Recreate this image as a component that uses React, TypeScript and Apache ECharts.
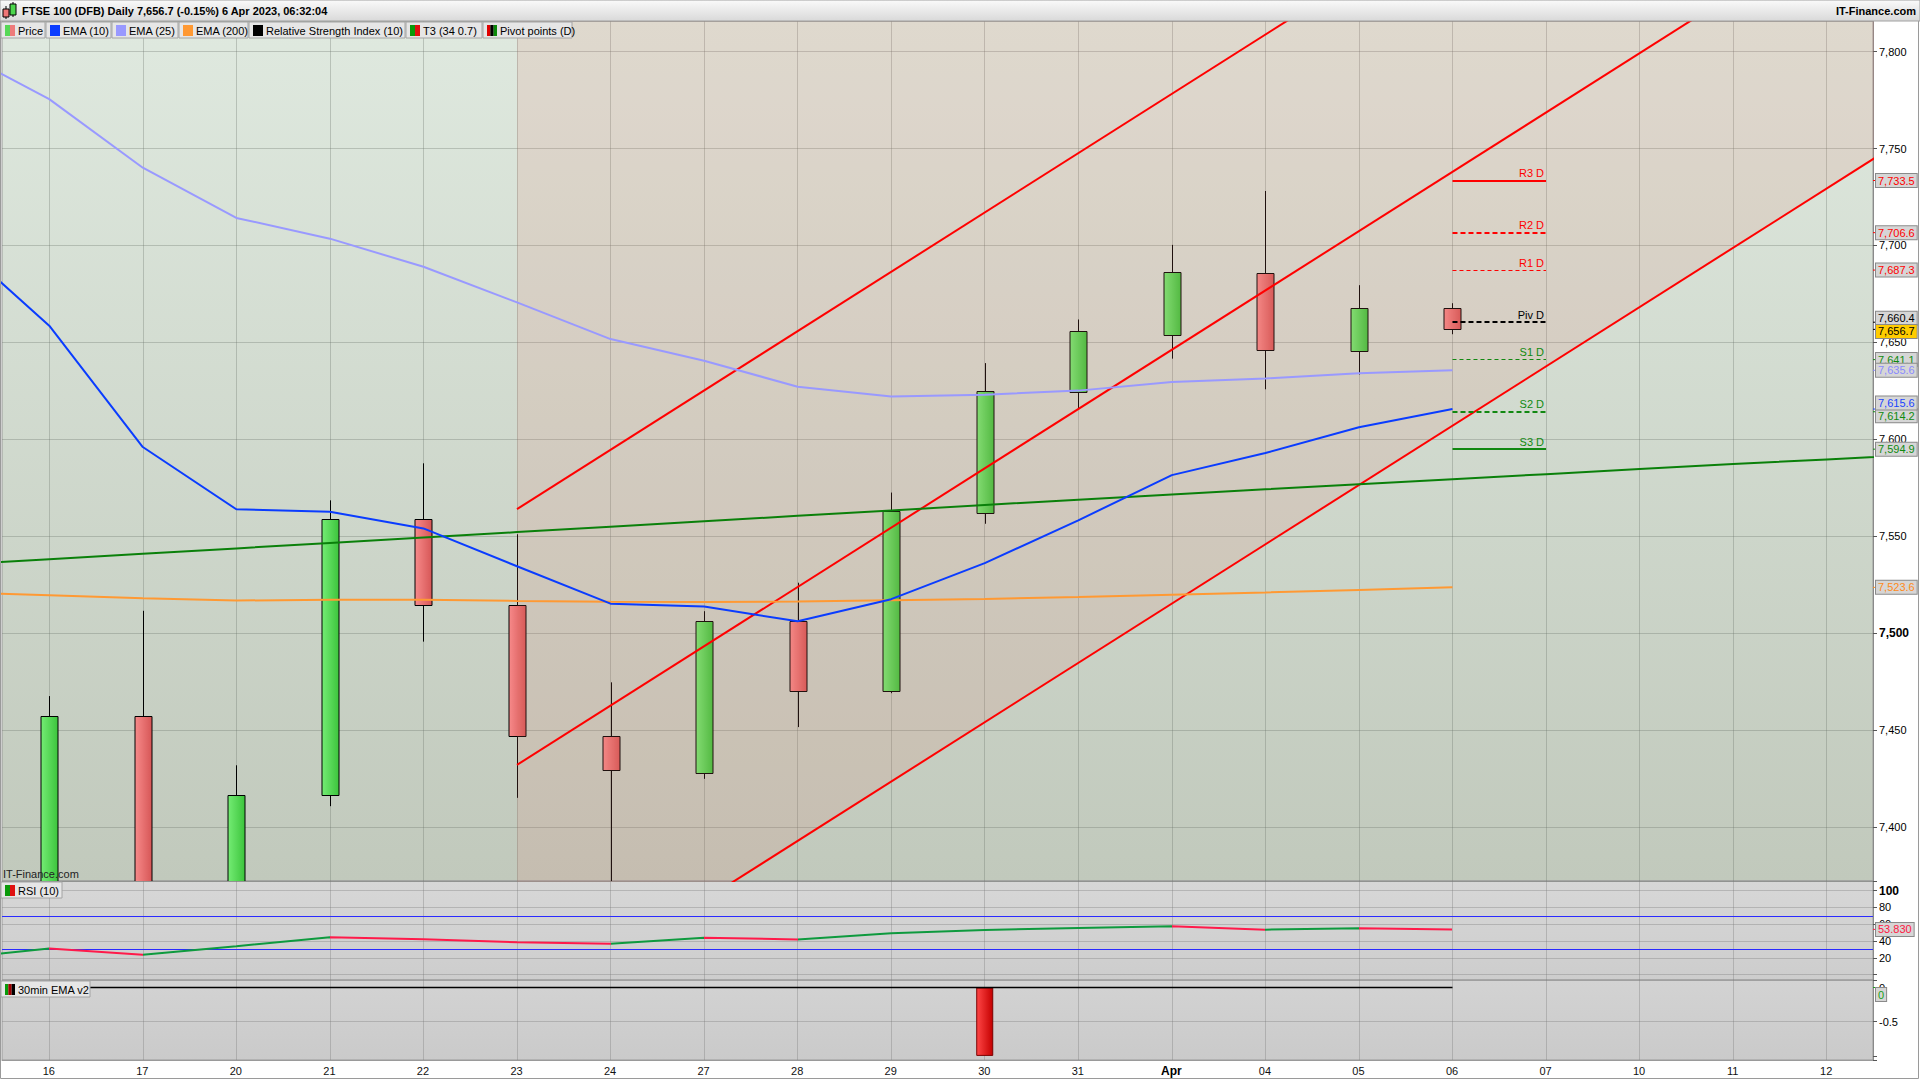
import { useEffect, useRef } from 'react';
import * as echarts from 'echarts';

// ---------- data ----------
const CATEGORIES = ['16', '17', '20', '21', '22', '23', '24', '27', '28', '29', '30', '31', 'Apr', '04', '05', '06', '07', '10', '11', '12'];

// daily candles for the first 16 categories
const OPEN = [7340, 7457, 7340, 7416.6, 7559, 7514.4, 7447, 7428, 7506, 7470, 7562.2, 7624.5, 7653.6, 7685.8, 7645.4, 7667.5];
const CLOSE = [7457, 7335, 7416.6, 7559, 7514.4, 7446.8, 7429.4, 7506, 7470, 7563, 7624.7, 7656.1, 7686.4, 7646, 7667.5, 7656.7];
const LOW = [7320, 7320, 7325, 7410.7, 7495.6, 7415, 7335, 7424.8, 7451.5, 7469, 7556.4, 7615.6, 7641.6, 7625.8, 7633.4, 7654.2];
const HIGH = [7467.5, 7511.5, 7431.8, 7568.5, 7587.6, 7551, 7474.6, 7511.3, 7526, 7572.5, 7639.3, 7661.8, 7700.3, 7728.1, 7679.5, 7670.2];

// indicator arrays start one session before the first visible category (index -1)
const LINE_START = -1;
const EMA10 = [7702, 7658.6, 7596, 7563.9, 7562.6, 7554, 7534.5, 7515.2, 7513.7, 7506.1, 7517.5, 7536.1, 7558.2, 7581.5, 7592.9, 7606.2, 7615.6];
const EMA25 = [7801, 7775.5, 7740.1, 7714.2, 7703.5, 7689, 7670.6, 7651.7, 7640.5, 7627.1, 7622.1, 7623, 7625.1, 7629.6, 7631.4, 7634, 7635.6];
const EMA200 = [7521, 7519.5, 7518, 7516.8, 7517.2, 7517.2, 7516.6, 7516.2, 7516.1, 7516.3, 7517, 7517.6, 7518.6, 7519.8, 7521, 7522.3, 7523.6];
const T3 = [7535.3, 7538.1, 7540.9, 7543.7, 7546.5, 7549.3, 7552.1, 7554.9, 7557.7, 7560.5, 7563.3, 7566.1, 7568.8, 7571.5, 7574.2, 7576.8, 7579.4, 7582, 7584.6, 7587.2, 7589.6, 7592];
const RSI = [19.4, 31.2, 23.7, 33.9, 44.5, 42.2, 38.6, 36.7, 43.9, 41.8, 49.2, 53.1, 55.5, 57.5, 53.5, 55.1, 53.83];
const EMA_V2_LINE = [0, 0, 0, 0, 0, 0, 0, 0, 0, 0, 0, 0, 0, 0, 0, 0, 0];
const EMA_V2_BARS = [0, 0, 0, 0, 0, 0, 0, 0, 0, 0, -1, 0, 0, 0, 0, 0];

// regression channel: [category index, price]
const CHANNEL_UPPER = [[5, 7564], [20, 8023]];
const CHANNEL_MID = [[5, 7432], [20, 7891]];
const CHANNEL_LOW = [[5, 7301], [20, 7760]];

const PIVOT_NAMES = ['R3 D', 'R2 D', 'R1 D', 'Piv D', 'S1 D', 'S2 D', 'S3 D'];
const PIVOT_VALUES = [7733.5, 7706.6, 7687.3, 7660.4, 7641.1, 7614.2, 7594.9];
const PIVOT_DAY = 15;
const RSI_LEVELS = [70, 30];

const TITLE = 'FTSE 100 (DFB) Daily 7,656.7 (-0.15%) 6 Apr 2023, 06:32:04';

// ---------- styling ----------
const FONT = '"Liberation Sans", Arial, Helvetica, sans-serif';
const GREEN = '#0e9a3e';
const RED = '#ff1a4a';
const X_MIN = -0.505;
const X_MAX = 19.495;

const vgrad = (a: string, b: string) => ({ type: 'linear', x: 0, y: 0, x2: 0, y2: 1, colorStops: [{ offset: 0, color: a }, { offset: 1, color: b }] });
const hgrad = (a: string, b: string) => ({ type: 'linear', x: 0, y: 0, x2: 1, y2: 0, colorStops: [{ offset: 0, color: a }, { offset: 1, color: b }] });
const withX = (arr: number[], start: number) => arr.map((v, i) => [i + start, v]);
const fmt = (v: number, d: number) => v.toLocaleString('en-US', { minimumFractionDigits: d, maximumFractionDigits: d });

const gridLine = { color: 'rgba(105,115,105,0.33)', width: 1, type: 'solid' };
const vLines = CATEGORIES.map((_, i) => ({ xAxis: i }));

function tag(value: number, text: string, color: string, dy = 0, bg = '#d6d6d6') {
  return {
    coord: [X_MAX, value],
    symbol: 'rect',
    symbolSize: [5, 1],
    symbolOffset: [2.5, 0],
    itemStyle: { color },
    label: {
      show: true, position: 'right', distance: -2, offset: [0, dy], formatter: text,
      color, backgroundColor: bg, borderColor: '#8a8a8a', borderWidth: 1, padding: [1, 2, 0, 2],
      fontSize: 11, fontFamily: FONT, lineHeight: 12,
    },
  };
}

const PIVOT_STYLE = [
  { color: '#ff0000', width: 2, type: 'solid' },
  { color: '#ff0000', width: 2, type: [5, 3] },
  { color: '#ff0000', width: 1, type: [4, 3] },
  { color: '#000000', width: 2, type: [5, 3] },
  { color: '#118811', width: 1, type: [4, 3] },
  { color: '#118811', width: 2, type: [5, 3] },
  { color: '#118811', width: 2, type: 'solid' },
];
const PIVOT_TAG_DY = [0, 0, 0, -4, 0, 4, 0];

const LEGEND = [
  { label: 'Price', x: 1, w: 44, sw: ['#56d856', '#ee7b7b'] },
  { label: 'EMA (10)', x: 46, w: 65, sw: ['#0a3cff'] },
  { label: 'EMA (25)', x: 112, w: 66, sw: ['#9999ff'] },
  { label: 'EMA (200)', x: 179, w: 69, sw: ['#ff9933'] },
  { label: 'Relative Strength Index (10)', x: 249, w: 156, sw: ['#000000'] },
  { label: 'T3 (34 0.7)', x: 406, w: 76, sw: ['#0a9a0a', '#e01010'] },
  { label: 'Pivot points (D)', x: 483, w: 89, sw: ['#e00000', '#000000', '#0a8a0a'] },
];

function labelBox(x: number, y: number, w: number, text: string, sw: string[]) {
  const els: any[] = [
    { type: 'rect', z: 100, shape: { x, y, width: w, height: 16 }, style: { fill: '#e6e6e6', stroke: '#a4a4a4', lineWidth: 1 } },
  ];
  const sww = 10 / sw.length;
  sw.forEach((c, i) => {
    els.push({ type: 'rect', z: 101, shape: { x: x + 4 + i * sww, y: y + 3, width: sww, height: 11 }, style: { fill: c } });
  });
  els.push({ type: 'text', z: 101, x: x + 17, y: y + 8.5, style: { text, font: `11px ${FONT}`, fill: '#000', textVerticalAlign: 'middle' } });
  return els;
}

function buildGraphic() {
  const g: any[] = [
    { type: 'rect', z: 99, silent: true, shape: { x: 0.5, y: 0.5, width: 1918, height: 1078 }, style: { fill: 'none', stroke: '#9a9a9a', lineWidth: 1 } },
    { type: 'rect', z: 100, shape: { x: 0, y: 0, width: 1920, height: 21 }, style: { fill: vgrad('#fafafa', '#d9d9d9'), stroke: '#a0a0a0', lineWidth: 1 } },
    // header icon: two small candles
    { type: 'line', z: 101, shape: { x1: 6, y1: 6, x2: 6, y2: 19 }, style: { stroke: '#000', lineWidth: 1 } },
    { type: 'rect', z: 102, shape: { x: 3, y: 9, width: 6, height: 8 }, style: { fill: '#ef7777', stroke: '#000', lineWidth: 1 } },
    { type: 'line', z: 101, shape: { x1: 13, y1: 2, x2: 13, y2: 17 }, style: { stroke: '#000', lineWidth: 1 } },
    { type: 'rect', z: 102, shape: { x: 10, y: 4, width: 6, height: 11 }, style: { fill: '#4dd64d', stroke: '#000', lineWidth: 1 } },
    { type: 'text', z: 101, x: 22, y: 11, style: { text: TITLE, font: `bold 11px ${FONT}`, fill: '#000', textVerticalAlign: 'middle' } },
    { type: 'text', z: 101, x: 1916, y: 11, style: { text: 'IT-Finance.com', font: `bold 11px ${FONT}`, fill: '#000', textAlign: 'right', textVerticalAlign: 'middle' } },
    { type: 'text', z: 101, x: 3, y: 874, style: { text: 'IT-Finance.com', font: `11px ${FONT}`, fill: '#222', textVerticalAlign: 'middle' } },
  ];
  LEGEND.forEach((l) => g.push(...labelBox(l.x, 22, l.w, l.label, l.sw)));
  g.push(...labelBox(1, 882, 61, 'RSI (10)', ['#0a9a0a', '#e01010']));
  g.push(...labelBox(1, 981, 89, '30min EMA v2', ['#0a9a0a', '#a00000', '#000000']));
  return g;
}

const UP_FILL = new echarts.graphic.LinearGradient(0, 0, 1, 0, [{ offset: 0, color: '#74ec74' }, { offset: 1, color: '#3cc43c' }]);
const DOWN_FILL = new echarts.graphic.LinearGradient(0, 0, 1, 0, [{ offset: 0, color: '#f78a8a' }, { offset: 1, color: '#d65656' }]);

function renderCandle(_params: any, api: any) {
  const x = api.value(0);
  const o = api.value(1);
  const c = api.value(2);
  const l = api.value(3);
  const h = api.value(4);
  const pO = api.coord([x, o]);
  const pC = api.coord([x, c]);
  const pL = api.coord([x, l]);
  const pH = api.coord([x, h]);
  const w = Math.round(api.size([1, 0])[0] * 0.182);
  const cx = Math.round(pO[0]) + 0.5;
  const top = Math.round(Math.min(pO[1], pC[1])) + 0.5;
  const bottom = Math.round(Math.max(pO[1], pC[1])) + 0.5;
  return {
    type: 'group',
    children: [
      { type: 'line', shape: { x1: cx, y1: pH[1], x2: cx, y2: pL[1] }, style: { stroke: '#000', lineWidth: 1 } },
      {
        type: 'rect',
        shape: { x: cx - w / 2, y: top, width: w, height: Math.max(1, bottom - top) },
        style: { fill: c >= o ? UP_FILL : DOWN_FILL, stroke: '#000', lineWidth: 1 },
      },
    ],
  };
}

function buildOption(): any {
  const lastIdx = EMA10.length - 1;
  const rsiPieces = RSI.slice(0, -1).map((v, i) => {
    const x0 = i + LINE_START;
    const up = RSI[i + 1] >= v;
    const last = i === RSI.length - 2;
    return last ? { gte: x0, lte: x0 + 1, color: up ? GREEN : RED } : { gte: x0, lt: x0 + 1, color: up ? GREEN : RED };
  });

  const pivotColors = PIVOT_STYLE.map((s) => s.color);
  const mainTags = [
    ...PIVOT_VALUES.map((v, i) => tag(v, fmt(v, 1), pivotColors[i] === '#118811' ? '#0f8a0f' : pivotColors[i], PIVOT_TAG_DY[i])),
    tag(CLOSE[CLOSE.length - 1], fmt(CLOSE[CLOSE.length - 1], 1), '#000', 2, '#ffcc00'),
    tag(EMA25[lastIdx], fmt(EMA25[lastIdx], 1), '#8a8aff', 0),
    tag(EMA10[lastIdx], fmt(EMA10[lastIdx], 1), '#1a44ff', -6),
    tag(EMA200[lastIdx], fmt(EMA200[lastIdx], 1), '#ff8a1a', 0),
  ];

  const yLabelBase = { color: '#000', fontSize: 11, fontFamily: FONT };
  const yLine = { show: true, onZero: false, lineStyle: { color: '#8a8a8a' } };
  const hiddenX = (gridIndex: number) => ({ type: 'value', gridIndex, min: X_MIN, max: X_MAX, show: false, axisLine: { onZero: false } });

  return {
    animation: false,
    backgroundColor: '#ffffff',
    grid: [
      { left: 2, right: 47, top: 21, height: 860, show: true, backgroundColor: vgrad('#dfe9df', '#c1c9bc'), borderColor: '#9a9a9a', borderWidth: 1 },
      { left: 2, right: 47, top: 881, height: 99, show: true, backgroundColor: vgrad('#d7d7d7', '#cdcdcd'), borderColor: '#9a9a9a', borderWidth: 1 },
      { left: 2, right: 47, top: 980, height: 80, show: true, backgroundColor: vgrad('#d3d3d3', '#cacaca'), borderColor: '#9a9a9a', borderWidth: 1 },
    ],
    xAxis: [
      hiddenX(0),
      hiddenX(1),
      hiddenX(2),
      {
        type: 'category', gridIndex: 2, data: CATEGORIES, boundaryGap: true, position: 'bottom',
        axisLine: { show: true, onZero: false, lineStyle: { color: '#9a9a9a' } },
        axisTick: { show: false },
        splitLine: { show: false },
        axisLabel: {
          interval: 0, margin: 5, color: '#111', fontSize: 11, fontFamily: FONT,
          formatter: (v: string) => (v === 'Apr' ? '{b|Apr}' : v),
          rich: { b: { fontWeight: 'bold', fontSize: 12, fontFamily: FONT, color: '#000' } },
        },
      },
    ],
    yAxis: [
      {
        type: 'value', gridIndex: 0, position: 'right', min: 7372.1, max: 7815.8, minInterval: 50, maxInterval: 50,
        axisLine: yLine,
        axisTick: { show: true, length: 4, lineStyle: { color: '#555' } },
        splitLine: { show: true, lineStyle: gridLine },
        axisLabel: {
          ...yLabelBase, margin: 6, showMinLabel: false, showMaxLabel: false,
          formatter: (v: number) => (v === 7500 ? '{b|7,500}' : fmt(v, 0)),
          rich: { b: { fontWeight: 'bold', fontSize: 12, fontFamily: FONT, color: '#000' } },
        },
      },
      {
        type: 'value', gridIndex: 1, position: 'right', min: -6.4, max: 111.4, minInterval: 20, maxInterval: 20,
        axisLine: yLine,
        axisTick: { show: true, length: 4, lineStyle: { color: '#555' } },
        splitLine: { show: true, lineStyle: { color: 'rgba(120,120,120,0.35)' } },
        axisLabel: {
          ...yLabelBase, margin: 6,
          formatter: (v: number) => (v === 100 ? '{b|100}' : v >= 20 && v < 100 ? String(v) : ''),
          rich: { b: { fontWeight: 'bold', fontSize: 12, fontFamily: FONT, color: '#000' } },
        },
      },
      {
        type: 'value', gridIndex: 2, position: 'right', min: -1.06, max: 0.11, minInterval: 0.5, maxInterval: 0.5,
        axisLine: yLine,
        axisTick: { show: true, length: 4, lineStyle: { color: '#555' } },
        splitLine: { show: false },
        axisLabel: { ...yLabelBase, margin: 6, formatter: (v: number) => (v === 0 ? '0' : v === -0.5 ? '-0.5' : '') },
      },
    ],
    visualMap: [
      { type: 'piecewise', show: false, seriesIndex: 9, dimension: 0, pieces: rsiPieces },
    ],
    series: [
      // 0: channel fill (above lower channel line) + vertical grid lines
      {
        type: 'line', xAxisIndex: 0, yAxisIndex: 0, data: CHANNEL_LOW, symbol: 'none', silent: true,
        lineStyle: { color: '#ff0000', width: 2 },
        areaStyle: { origin: 'end', color: 'rgba(224,122,104,0.2)' },
        markLine: { silent: true, symbol: 'none', z: 1, label: { show: false }, lineStyle: gridLine, data: vLines },
      },
      // 1: candles (custom so that they are clipped at the panel edge)
      {
        type: 'custom', xAxisIndex: 0, yAxisIndex: 0, silent: true, clip: true,
        data: OPEN.map((o, i) => [i, o, CLOSE[i], LOW[i], HIGH[i]]),
        encode: { x: 0, y: [1, 2, 3, 4] },
        renderItem: renderCandle,
      },
      // 2,3: channel upper / middle
      { type: 'line', xAxisIndex: 0, yAxisIndex: 0, data: CHANNEL_UPPER, symbol: 'none', silent: true, lineStyle: { color: '#ff0000', width: 2 } },
      { type: 'line', xAxisIndex: 0, yAxisIndex: 0, data: CHANNEL_MID, symbol: 'none', silent: true, lineStyle: { color: '#ff0000', width: 2 } },
      // 4: EMA 200
      { type: 'line', xAxisIndex: 0, yAxisIndex: 0, data: withX(EMA200, LINE_START), symbol: 'none', silent: true, lineStyle: { color: '#ff9933', width: 2 } },
      // 5: EMA 25
      { type: 'line', xAxisIndex: 0, yAxisIndex: 0, data: withX(EMA25, LINE_START), symbol: 'none', silent: true, lineStyle: { color: '#9999ff', width: 2 } },
      // 6: T3
      { type: 'line', xAxisIndex: 0, yAxisIndex: 0, data: withX(T3, LINE_START), symbol: 'none', silent: true, lineStyle: { color: '#0a800a', width: 2 } },
      // 7: EMA 10 + pivots + price tags
      {
        type: 'line', xAxisIndex: 0, yAxisIndex: 0, data: withX(EMA10, LINE_START), symbol: 'none', silent: true,
        lineStyle: { color: '#0a3cff', width: 2 },
        markLine: {
          silent: true, symbol: 'none',
          data: PIVOT_NAMES.map((n, i) => [
            {
              coord: [PIVOT_DAY, PIVOT_VALUES[i]], lineStyle: PIVOT_STYLE[i],
              label: { show: true, formatter: n, position: 'insideEndTop', distance: [2, 2], color: i === 3 ? '#000' : PIVOT_STYLE[i].color === '#118811' ? '#0f8a0f' : '#ff0000', fontSize: 11, fontFamily: FONT },
            },
            { coord: [PIVOT_DAY + 1, PIVOT_VALUES[i]] },
          ]),
        },
        markPoint: { silent: true, data: mainTags },
      },
      // 8: placeholder to keep RSI at index 9
      { type: 'line', xAxisIndex: 1, yAxisIndex: 1, data: [], silent: true },
      // 9: RSI
      {
        type: 'line', xAxisIndex: 1, yAxisIndex: 1, data: withX(RSI, LINE_START), symbol: 'none', silent: true,
        lineStyle: { width: 2 },
        markLine: {
          silent: true, symbol: 'none', z: 1, label: { show: false },
          lineStyle: { color: 'rgba(120,120,120,0.35)', width: 1, type: 'solid' },
          data: [
            ...vLines,
            ...RSI_LEVELS.map((lv) => ({ yAxis: lv, lineStyle: { color: '#2a2aff', width: 1.2, type: 'solid' } })),
          ],
        },
        markPoint: { silent: true, data: [tag(RSI[RSI.length - 1], fmt(RSI[RSI.length - 1], 3), '#ff1744', 0)] },
      },
      // 10: 30min EMA v2 zero line
      {
        type: 'line', xAxisIndex: 2, yAxisIndex: 2, data: withX(EMA_V2_LINE, LINE_START), symbol: 'none', silent: true,
        lineStyle: { color: '#000', width: 1.5 },
        markLine: {
          silent: true, symbol: 'none', z: 1, label: { show: false },
          lineStyle: { color: 'rgba(120,120,120,0.35)', width: 1, type: 'solid' },
          data: [...vLines, { yAxis: -0.5 }],
        },
        markPoint: { silent: true, data: [tag(EMA_V2_LINE[EMA_V2_LINE.length - 1], '0', '#18a018', 7)] },
      },
      // 11: 30min EMA v2 bars
      {
        type: 'bar', xAxisIndex: 2, yAxisIndex: 2, barWidth: 17, silent: true,
        data: EMA_V2_BARS.map((v, i) => [i, v]).filter((d) => d[1] !== 0),
        itemStyle: { color: hgrad('#ff4646', '#c40000'), borderColor: '#7a0000', borderWidth: 1 },
      },
    ],
    graphic: buildGraphic(),
  };
}

export default function App() {
  const ref = useRef<HTMLDivElement>(null);
  useEffect(() => {
    document.body.style.margin = '0';
    const chart = echarts.init(ref.current as HTMLDivElement, null, { renderer: 'svg' });
    chart.setOption(buildOption());
    return () => chart.dispose();
  }, []);
  return <div ref={ref} style={{ width: 1920, height: 1080, background: '#fff' }} />;
}
